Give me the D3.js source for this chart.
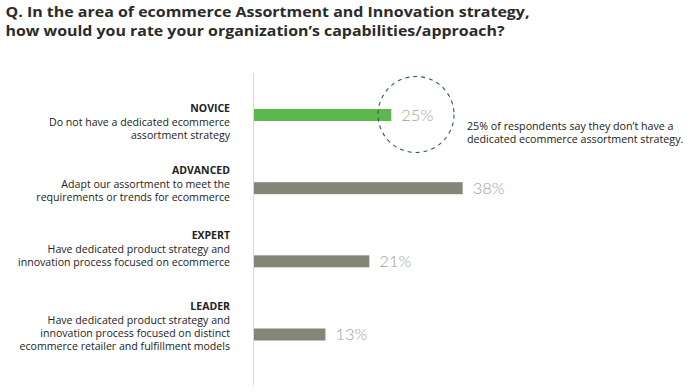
<!DOCTYPE html>
<html><head><meta charset="utf-8">
<script src="https://cdn.jsdelivr.net/npm/d3@7"></script>
<style>
html,body{margin:0;padding:0;background:#fff;}
svg{display:block;font-family:"Open Sans", sans-serif;}
</style></head>
<body><svg id="c" width="691" height="392"></svg>
<script>
const titleLines = ["Q. In the area of ecommerce Assortment and Innovation strategy,", "how would you rate your organization\u2019s capabilities/approach?"];
const categories = ["NOVICE", "ADVANCED", "EXPERT", "LEADER"];
const descriptions = [
  ["Do not have a dedicated ecommerce", "assortment strategy"],
  ["Adapt our assortment to meet the", "requirements or trends for ecommerce"],
  ["Have dedicated product strategy and", "innovation process focused on ecommerce"],
  ["Have dedicated product strategy and", "innovation process focused on distinct", "ecommerce retailer and fulfillment models"]
];
const values = [25, 38, 21, 13];
const highlighted = ["NOVICE"];
const annotationLines = ["25% of respondents say they don\u2019t have a", "dedicated ecommerce assortment strategy."];

const svg = d3.select("#c");
const x = d3.scaleLinear().domain([0, 38]).range([254, 462.7]);
const y = d3.scalePoint().domain(categories).range([115, 334.5]);
const barH = 12;
const labelTop = [108.5, 170.5, 235.5, 306.5];
const lineH = 13.3;
const titleWidths = [524, 499];

// title
svg.append("g").selectAll("text").data(titleLines).join("text")
  .attr("x", 5.5).attr("y", (d,i)=>17 + i*18.5)
  .attr("font-size", 15).attr("font-weight", 700).attr("fill", "#2b2b2b")
  .attr("textLength", (d,i)=>titleWidths[i]).attr("lengthAdjust", "spacingAndGlyphs")
  .text(d=>d);

// axis line
svg.append("line").attr("x1", 253.5).attr("x2", 253.5).attr("y1", 73).attr("y2", 385)
  .attr("stroke", "#dcdcdc").attr("stroke-width", 1);

// bars
svg.append("g").selectAll("rect").data(categories).join("rect")
  .attr("x", x(0)).attr("y", d=>y(d) - barH/2)
  .attr("width", (d,i)=>x(values[i]) - x(0)).attr("height", barH)
  .attr("fill", d=>highlighted.includes(d) ? "#5cb84c" : "#858578");

// value labels
svg.append("g").selectAll("text").data(categories).join("text")
  .attr("x", (d,i)=>x(values[i]) + 10).attr("y", d=>y(d))
  .attr("dy", "0.36em").attr("font-family", "Lato, sans-serif")
  .attr("font-size", 16.5).attr("font-weight", 300).attr("fill", "#a0a0a0")
  .text((d,i)=>values[i] + "%");

// left labels
const lab = svg.append("g").attr("text-anchor", "end");
categories.forEach((c,i)=>{
  lab.append("text").attr("x", 230).attr("y", labelTop[i]).attr("dy", "0.35em")
    .attr("font-size", 10.5).attr("font-weight", 700).attr("fill", "#222").text(c);
  descriptions[i].forEach((t,j)=>{
    lab.append("text").attr("x", 230).attr("y", labelTop[i] + (j+1)*lineH).attr("dy", "0.35em")
      .attr("font-size", 10.6).attr("fill", "#222").text(t);
  });
});

// dashed circle
const hi = highlighted[0];
svg.append("circle").attr("cx", 416).attr("cy", y(hi) - 0.5).attr("r", 38)
  .attr("fill", "none").attr("stroke", "#2f5d4b").attr("stroke-width", 1.1).attr("stroke-dasharray", "4,4");

// annotation
svg.append("g").selectAll("text").data(annotationLines).join("text")
  .attr("x", 467).attr("y", (d,i)=>125.8 + i*13.3).attr("dy", "0.35em")
  .attr("font-size", 10.7).attr("fill", "#222").text(d=>d);
</script>
</body></html>
